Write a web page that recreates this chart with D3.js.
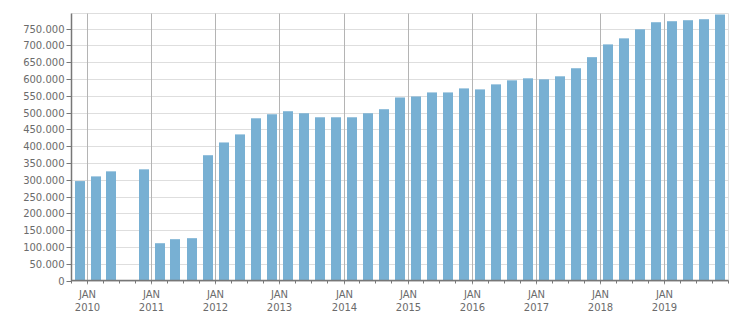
<!DOCTYPE html>
<html>
<head>
<meta charset="utf-8">
<script src="https://cdn.jsdelivr.net/npm/d3@7/dist/d3.min.js"></script>
<style>
  html, body { margin: 0; padding: 0; background: #fff; }
  svg { display: block; }
  text { font-family: "DejaVu Sans", Verdana, sans-serif; font-size: 10px; fill: #6b6b6b; }
</style>
</head>
<body>
<svg id="chart" width="751" height="313"></svg>
<script>
// Quarter start dates (Q3 2010 has no value)
const quarters = [
  "2009-10-01","2010-01-01","2010-04-01","2010-10-01",
  "2011-01-01","2011-04-01","2011-07-01","2011-10-01",
  "2012-01-01","2012-04-01","2012-07-01","2012-10-01",
  "2013-01-01","2013-04-01","2013-07-01","2013-10-01",
  "2014-01-01","2014-04-01","2014-07-01","2014-10-01",
  "2015-01-01","2015-04-01","2015-07-01","2015-10-01",
  "2016-01-01","2016-04-01","2016-07-01","2016-10-01",
  "2017-01-01","2017-04-01","2017-07-01","2017-10-01",
  "2018-01-01","2018-04-01","2018-07-01","2018-10-01",
  "2019-01-01","2019-04-01","2019-07-01","2019-10-01"
];
const values = [
  296000, 310000, 325000, 331000,
  111000, 123000, 126000, 373000,
  411000, 435000, 483000, 495000,
  504000, 498000, 486000, 486000,
  486000, 498000, 510000, 545000,
  548000, 560000, 560000, 572000,
  569000, 584000, 596000, 602000,
  599000, 608000, 632000, 665000,
  703000, 721000, 748000, 769000,
  772000, 775000, 778000, 792000
];
const yTicks = [0,50000,100000,150000,200000,250000,300000,350000,400000,450000,500000,550000,600000,650000,700000,750000];
const yMax = 795000;
const xStart = "2009-10-01", xEnd = "2020-01-01";

const svg = d3.select("#chart");
const m = {left: 71.5, right: 751 - 728.5, top: 13.5, bottom: 313 - 280.5};
const W = 751, H = 313;
const parse = d3.utcParse("%Y-%m-%d");

const x = d3.scaleUtc().domain([parse(xStart), parse(xEnd)]).range([m.left, W - m.right]);
const y = d3.scaleLinear().domain([0, yMax]).range([H - m.bottom, m.top]);

const fmt = v => d3.format(",")(v).replace(/,/g, ".");
const px = d => Math.floor(x(d)) + 0.5;

// horizontal grid
svg.append("g").selectAll("line").data(yTicks).join("line")
  .attr("x1", m.left).attr("x2", W - m.right)
  .attr("y1", d => Math.round(y(d)) + 0.5).attr("y2", d => Math.round(y(d)) + 0.5)
  .attr("stroke", "#dedede").attr("stroke-width", 1);

// top and right border
svg.append("line").attr("x1", m.left).attr("x2", W - m.right).attr("y1", m.top).attr("y2", m.top)
  .attr("stroke", "#dedede");
svg.append("line").attr("x1", W - m.right).attr("x2", W - m.right).attr("y1", m.top).attr("y2", H - m.bottom)
  .attr("stroke", "#dedede");

// vertical year grid
const years = d3.utcYear.range(d3.utcYear.ceil(parse(xStart)), parse(xEnd));
svg.append("g").selectAll("line").data(years).join("line")
  .attr("x1", px).attr("x2", px)
  .attr("y1", m.top).attr("y2", H - m.bottom + 4)
  .attr("stroke", "#b4b4b4").attr("stroke-width", 1);

// bars
const bw = 10;
svg.append("g").selectAll("rect").data(quarters.map((q, i) => ({q: parse(q), v: values[i]}))).join("rect")
  .attr("x", d => {
    const s = d.q, e = d3.utcMonth.offset(d.q, 3);
    return Math.round((x(s) + x(e)) / 2 - bw / 2);
  })
  .attr("width", bw)
  .attr("y", d => y(d.v))
  .attr("height", d => y(0) - y(d.v))
  .attr("fill", "#78b0d3");

// y axis
const yAxis = d3.axisLeft(y).tickValues(yTicks).tickFormat(fmt).tickSize(5).tickPadding(2);
const gy = svg.append("g").attr("transform", `translate(${m.left},0)`).call(yAxis);
gy.select(".domain").remove();
gy.selectAll(".tick line").attr("stroke", "#777");
gy.selectAll(".tick text").attr("fill", "#6b6b6b").style("font-family", '"DejaVu Sans", sans-serif').style("font-size", "10px");
gy.selectAll(".tick").attr("transform", d => `translate(0,${Math.round(y(d)) + 0.5})`);
svg.append("line").attr("x1", m.left).attr("x2", m.left).attr("y1", m.top).attr("y2", H - m.bottom + 0.5)
  .attr("stroke", "#777").attr("stroke-width", 1.5);

// x axis: minor quarter ticks
const qTicks = d3.utcMonth.every(3).range(parse(xStart), d3.utcDay.offset(parse(xEnd), 1));
svg.append("g").selectAll("line").data(qTicks).join("line")
  .attr("x1", px).attr("x2", px)
  .attr("y1", H - m.bottom).attr("y2", H - m.bottom + 3)
  .attr("stroke", "#777");
svg.append("line").attr("x1", m.left).attr("x2", W - m.right).attr("y1", H - m.bottom).attr("y2", H - m.bottom)
  .attr("stroke", "#777").attr("stroke-width", 1.5);

// year labels
const lab = svg.append("g").selectAll("text").data(years).join("text")
  .attr("x", px)
  .attr("text-anchor", "middle");
lab.append("tspan").attr("x", px).attr("y", 298).text("JAN");
lab.append("tspan").attr("x", px).attr("y", 310.5).text(d => d3.utcFormat("%Y")(d));
</script>
</body>
</html>
